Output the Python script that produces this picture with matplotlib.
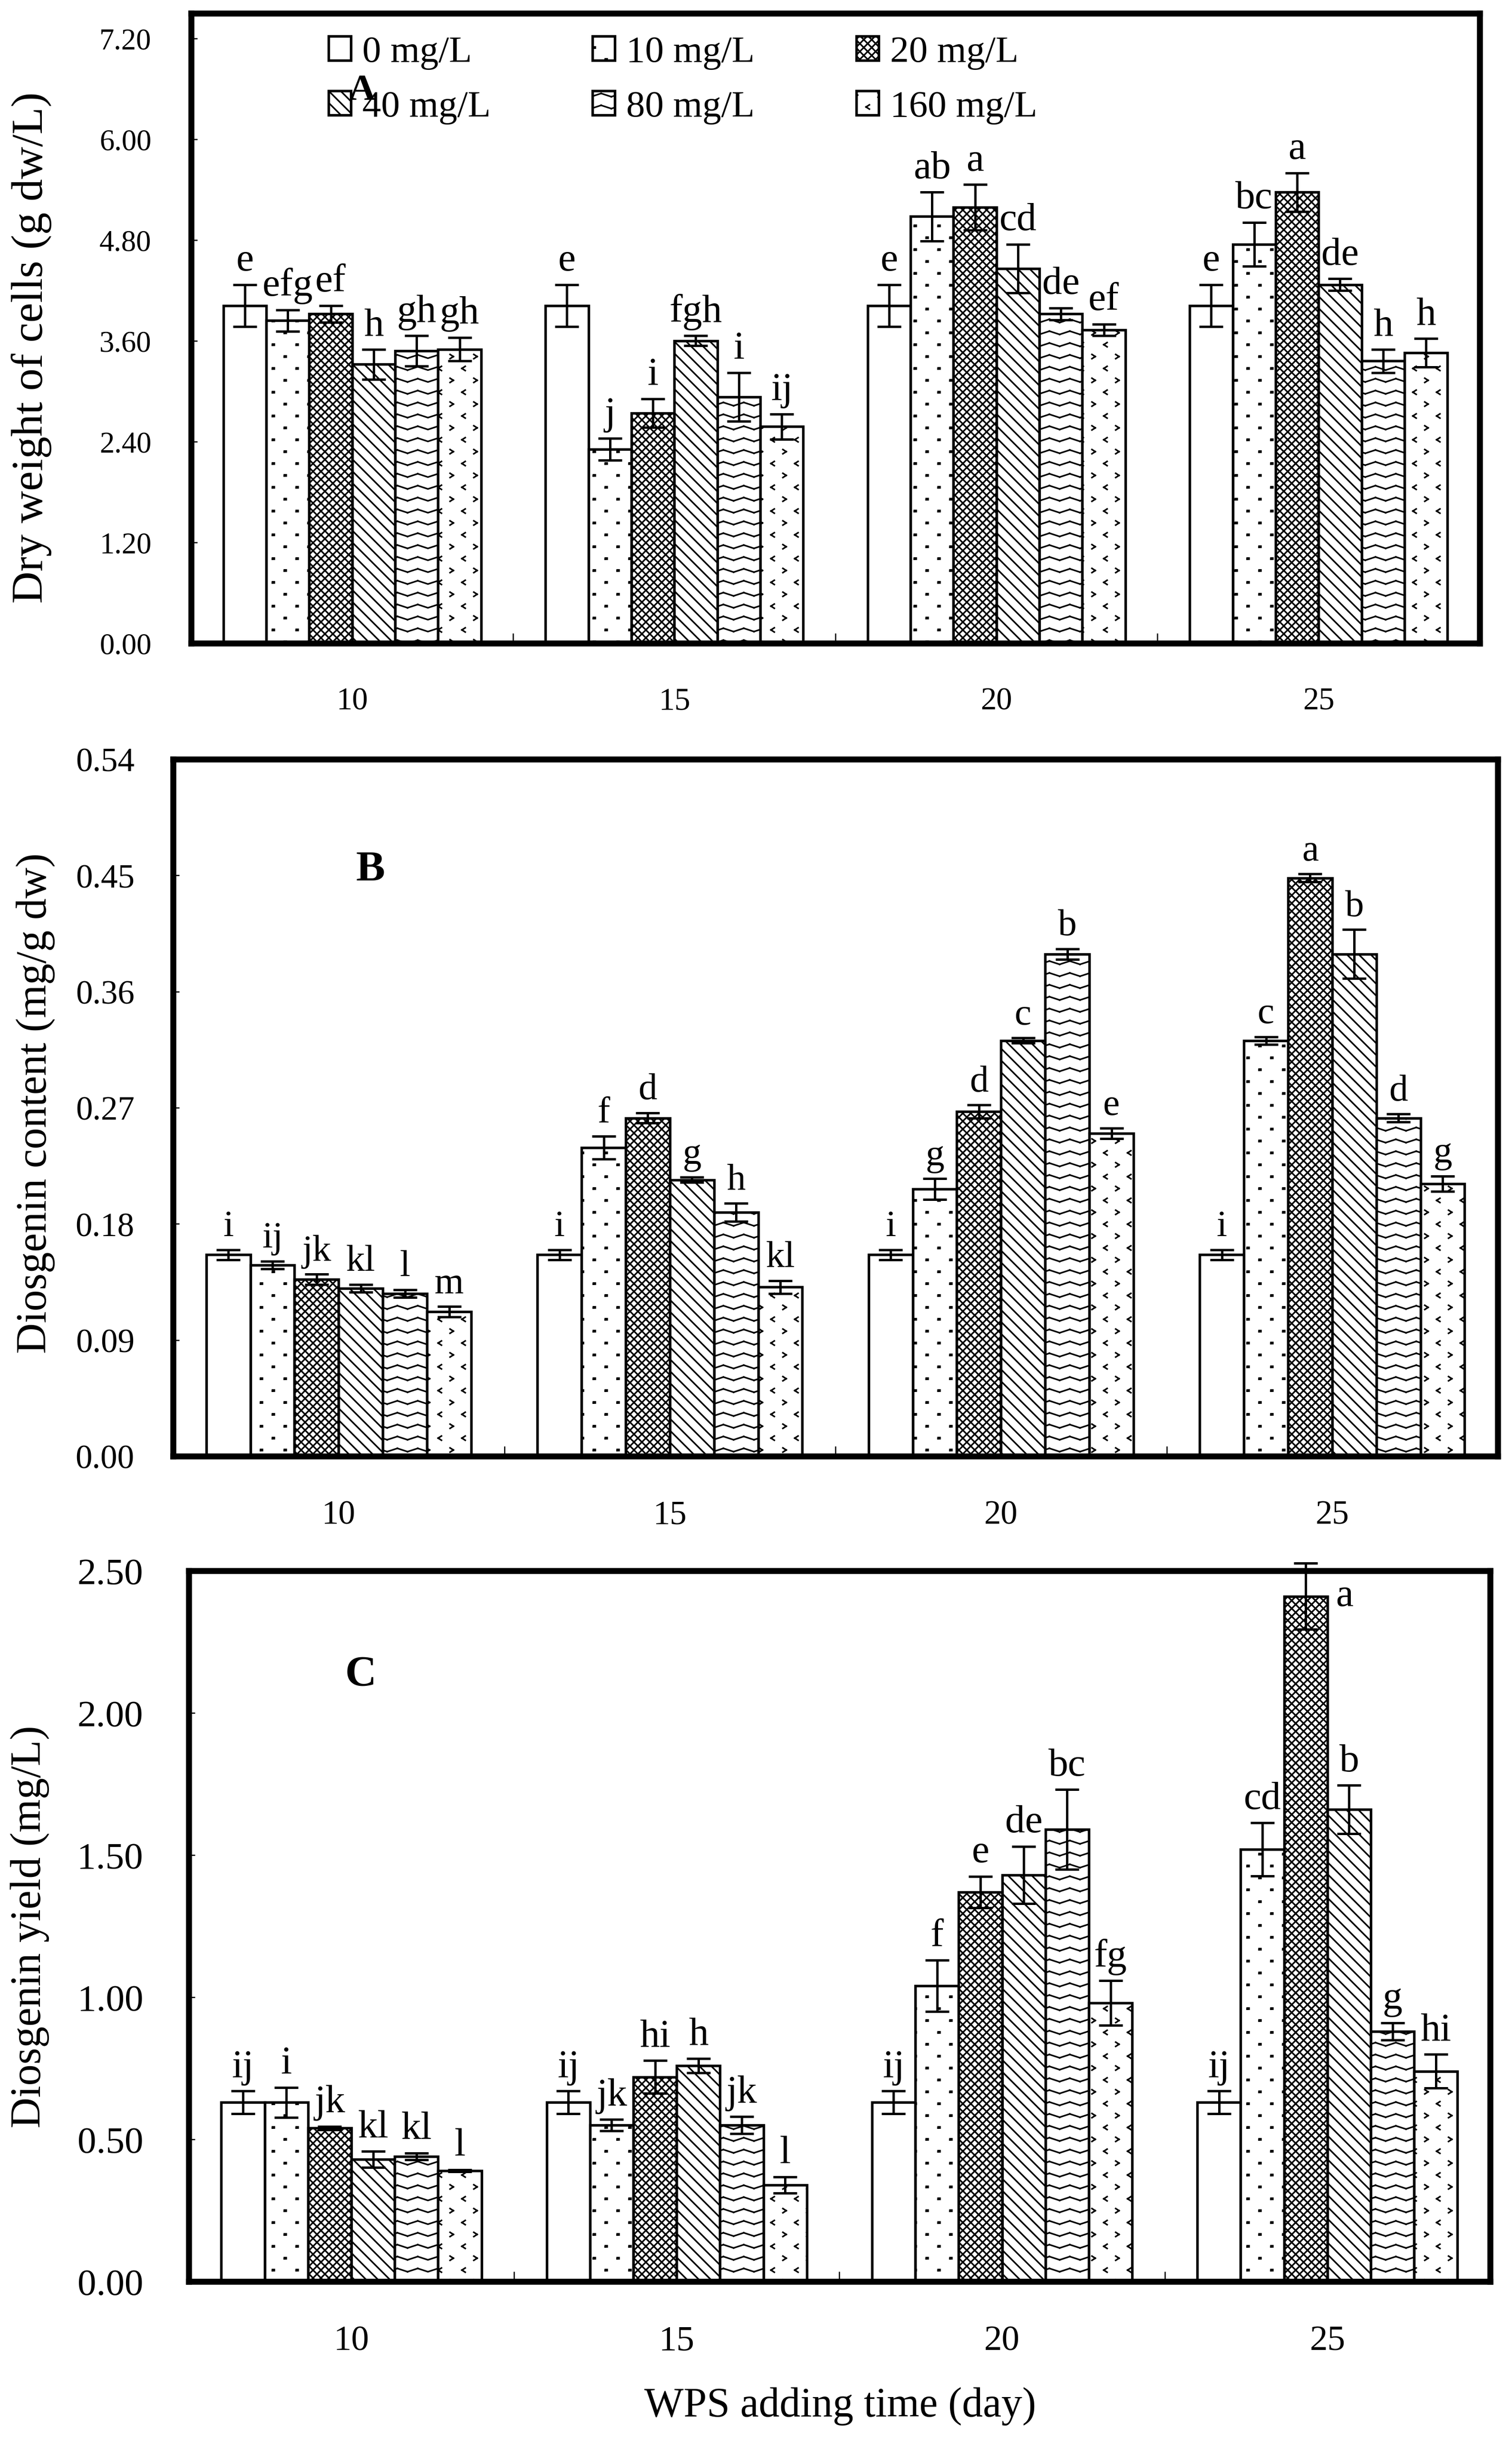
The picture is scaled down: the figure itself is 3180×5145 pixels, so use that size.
import warnings
import numpy as np
import matplotlib
matplotlib.use('Agg')
import matplotlib.pyplot as plt
import matplotlib.hatch as mhatch
from matplotlib.path import Path
from matplotlib.patches import Patch

warnings.filterwarnings('ignore')

plt.rcParams['font.family'] = ['Liberation Serif', 'DejaVu Serif']
plt.rcParams['hatch.linewidth'] = 0.8

# data
days = ['10', '15', '20', '25']
doses = ['0 mg/L', '10 mg/L', '20 mg/L', '40 mg/L', '80 mg/L', '160 mg/L']

# rows = adding day, columns = dose
dw_mean = [[4.02, 3.84, 3.92, 3.32, 3.48, 3.50],
           [4.02, 2.31, 2.74, 3.60, 2.93, 2.58],
           [4.02, 5.08, 5.19, 4.46, 3.92, 3.73],
           [4.02, 4.75, 5.37, 4.27, 3.36, 3.46]]
dw_err = [[0.25, 0.13, 0.10, 0.18, 0.18, 0.14],
          [0.25, 0.13, 0.17, 0.06, 0.29, 0.15],
          [0.25, 0.29, 0.27, 0.29, 0.07, 0.07],
          [0.25, 0.26, 0.23, 0.07, 0.14, 0.17]]
dw_letters = [['e', 'efg', 'ef', 'h', 'gh', 'gh'],
              ['e', 'j', 'i', 'fgh', 'i', 'ij'],
              ['e', 'ab', 'a', 'cd', 'de', 'ef'],
              ['e', 'bc', 'a', 'de', 'h', 'h']]

cont_mean = [[0.156, 0.148, 0.137, 0.130, 0.126, 0.112],
             [0.156, 0.239, 0.262, 0.214, 0.189, 0.131],
             [0.156, 0.207, 0.267, 0.322, 0.389, 0.250],
             [0.156, 0.322, 0.448, 0.389, 0.262, 0.211]]
cont_err = [[0.004, 0.003, 0.004, 0.003, 0.003, 0.004],
            [0.004, 0.009, 0.004, 0.002, 0.007, 0.005],
            [0.004, 0.008, 0.005, 0.002, 0.004, 0.004],
            [0.004, 0.003, 0.003, 0.019, 0.003, 0.006]]
cont_letters = [['i', 'ij', 'jk', 'kl', 'l', 'm'],
                ['i', 'f', 'd', 'g', 'h', 'kl'],
                ['i', 'g', 'd', 'c', 'b', 'e'],
                ['i', 'c', 'a', 'b', 'd', 'g']]

yield_mean = [[0.63, 0.63, 0.54, 0.43, 0.44, 0.39],
              [0.63, 0.55, 0.72, 0.76, 0.55, 0.34],
              [0.63, 1.04, 1.37, 1.43, 1.59, 0.98],
              [0.63, 1.52, 2.41, 1.66, 0.88, 0.74]]
yield_err = [[0.04, 0.053, 0.006, 0.028, 0.012, 0.004],
             [0.04, 0.020, 0.057, 0.025, 0.030, 0.028],
             [0.04, 0.090, 0.055, 0.100, 0.140, 0.078],
             [0.04, 0.093, 0.116, 0.085, 0.030, 0.060]]
yield_letters = [['ij', 'i', 'jk', 'kl', 'kl', 'l'],
                 ['ij', 'jk', 'hi', 'h', 'jk', 'l'],
                 ['ij', 'f', 'e', 'de', 'bc', 'fg'],
                 ['ij', 'cd', 'a', 'b', 'g', 'hi']]


# extra fill patterns (dots, zigzag, chevrons) for the hatches
class SegHatch(mhatch.HatchPatternBase):
    char = ''

    def __init__(self, hatch, density):
        self.paths = self.build() if (self.char and self.char in hatch) else []
        self.num_vertices = sum(len(p) for p in self.paths)

    def build(self):
        return []

    def set_vertices_and_codes(self, vertices, codes):
        i = 0
        for p in self.paths:
            k = len(p)
            vertices[i:i + k] = p
            codes[i] = Path.MOVETO
            codes[i + 1:i + k] = Path.LINETO
            i += k


class DotHatch(SegHatch):
    char = 'd'

    def build(self):
        out = []
        w, h = 2.0 / 300, 1.2 / 300
        for r in range(13):
            y = r / 12
            for x in np.arange(0, 1.001, 1 / 6) + (1 / 12 if r % 2 else 0):
                out.append([(x - w, y - h), (x + w, y - h), (x + w, y + h),
                            (x - w, y + h), (x - w, y - h)])
        return out


class ZigzagHatch(SegHatch):
    char = 'z'

    def build(self):
        out = []
        a = 3.5 / 300
        xs = np.linspace(0, 1, 15)
        for r in range(13):
            y = r / 12
            for i in range(14):
                s = 1 if i % 2 else -1
                out.append([(xs[i], y + s * a), (xs[i + 1], y - s * a)])
        return out


class ChevronHatch(SegHatch):
    char = 'v'

    def build(self):
        out = []
        w, h = 3.5 / 300, 4.5 / 300
        for r in range(13):
            y = r / 12
            s = -1 if r % 2 else 1
            for x in np.arange(0, 1.001, 1 / 6) + (1 / 12 if r % 2 else 0):
                tip = (x + s * w, y)
                out.append([(x - s * w, y + h), tip])
                out.append([tip, (x - s * w, y - h)])
        return out


mhatch._hatch_types.extend([DotHatch, ZigzagHatch, ChevronHatch])

hatches = ['', 'd', 'xxxxxx', '\\\\\\\\', 'z', 'v']

fig = plt.figure(figsize=(10.6, 17.1533), dpi=300)
axA = fig.add_axes([0.1264, 0.7369, 0.8522, 0.2575])
axB = fig.add_axes([0.1145, 0.4046, 0.8761, 0.2849])
axC = fig.add_axes([0.1248, 0.0672, 0.8607, 0.2906])

bw = 0.8 / 6


def draw_panel(ax, mean, err, letters, ymax, step, ylabel, lab_x, tick_fs, xtick_fs,
               letter_fs, ypad, ylabel_fs):
    mean = np.array(mean)
    err = np.array(err)
    for j in range(6):
        x = np.arange(4) + 0.1 + bw * (j + 0.5)
        ax.bar(x, mean[:, j], bw, color='white', edgecolor='black', linewidth=1.3,
               hatch=hatches[j], zorder=2)
        ax.errorbar(x, mean[:, j], yerr=err[:, j], fmt='none', ecolor='black',
                    elinewidth=1.2, capsize=6, capthick=1.2, zorder=3, clip_on=False)
        for g in range(4):
            top = mean[g, j] + err[g, j]
            if top > ymax * 0.93:
                ax.annotate(letters[g][j], (x[g], mean[g, j]), xytext=(15, 0),
                            textcoords='offset points', ha='left', va='center',
                            fontsize=letter_fs)
            else:
                ax.annotate(letters[g][j], (x[g], top), xytext=(0, 3),
                            textcoords='offset points', ha='center', va='bottom',
                            fontsize=letter_fs)
    ax.set_xlim(0, 4)
    ax.set_ylim(0, ymax)
    ax.set_yticks(np.arange(0, ymax + 1e-9, step))
    ax.set_yticklabels(['%.2f' % v for v in np.arange(0, ymax + 1e-9, step)])
    ax.set_xticks(np.arange(4) + 0.5)
    ax.set_xticklabels(days)
    ax.set_xticks([1, 2, 3], minor=True)
    ax.tick_params(axis='x', which='major', length=0, pad=22, labelsize=xtick_fs)
    ax.tick_params(axis='x', which='minor', direction='in', length=5, width=0.6)
    ax.tick_params(axis='y', direction='in', length=3, width=0.6, pad=ypad,
                   labelsize=tick_fs)
    for s in ax.spines.values():
        s.set_linewidth(3)
    ax.set_ylabel(ylabel, fontsize=ylabel_fs)
    ax.yaxis.set_label_coords(lab_x[0], lab_x[1])


# A: dry weight
draw_panel(axA, dw_mean, dw_err, dw_letters, 7.5, 1.2, 'Dry weight of cells (g dw/L)',
           (-0.108, 0.47), 15, 16, 20, 20, 22.5)
axA.text(0.53, 6.58, 'A', fontsize=19, fontweight='bold', ha='center', va='center')

handles = [Patch(facecolor='white', edgecolor='black', hatch=h, linewidth=1.3)
           for h in hatches]
order = [0, 3, 1, 4, 2, 5]
axA.legend([handles[i] for i in order], [doses[i] for i in order], ncols=3,
           loc='upper left', bbox_to_anchor=(0.1066, 0.9645), frameon=False,
           fontsize=19, handlelength=0.6, handleheight=0.6, handletextpad=0.3,
           columnspacing=2.7, labelspacing=0.55, borderaxespad=0, borderpad=0)

# B: diosgenin content
draw_panel(axB, cont_mean, cont_err, cont_letters, 0.54, 0.09,
           'Diosgenin content (mg/g dw)', (-0.089, 0.507), 17, 17, 19, 19.5, 21.5)
axB.text(0.596, 0.454, 'B', fontsize=22, fontweight='bold', ha='center', va='center')

# C: diosgenin yield
draw_panel(axC, yield_mean, yield_err, yield_letters, 2.5, 0.5,
           'Diosgenin yield (mg/L)', (-0.107, 0.50), 19, 18, 20, 23, 21.5)
axC.text(0.529, 2.135, 'C', fontsize=22, fontweight='bold', ha='center', va='center')

fig.text(0.5557, 0.0165, 'WPS adding time (day)', fontsize=21, ha='center', va='center')

fig.savefig('out.png', dpi=300)
